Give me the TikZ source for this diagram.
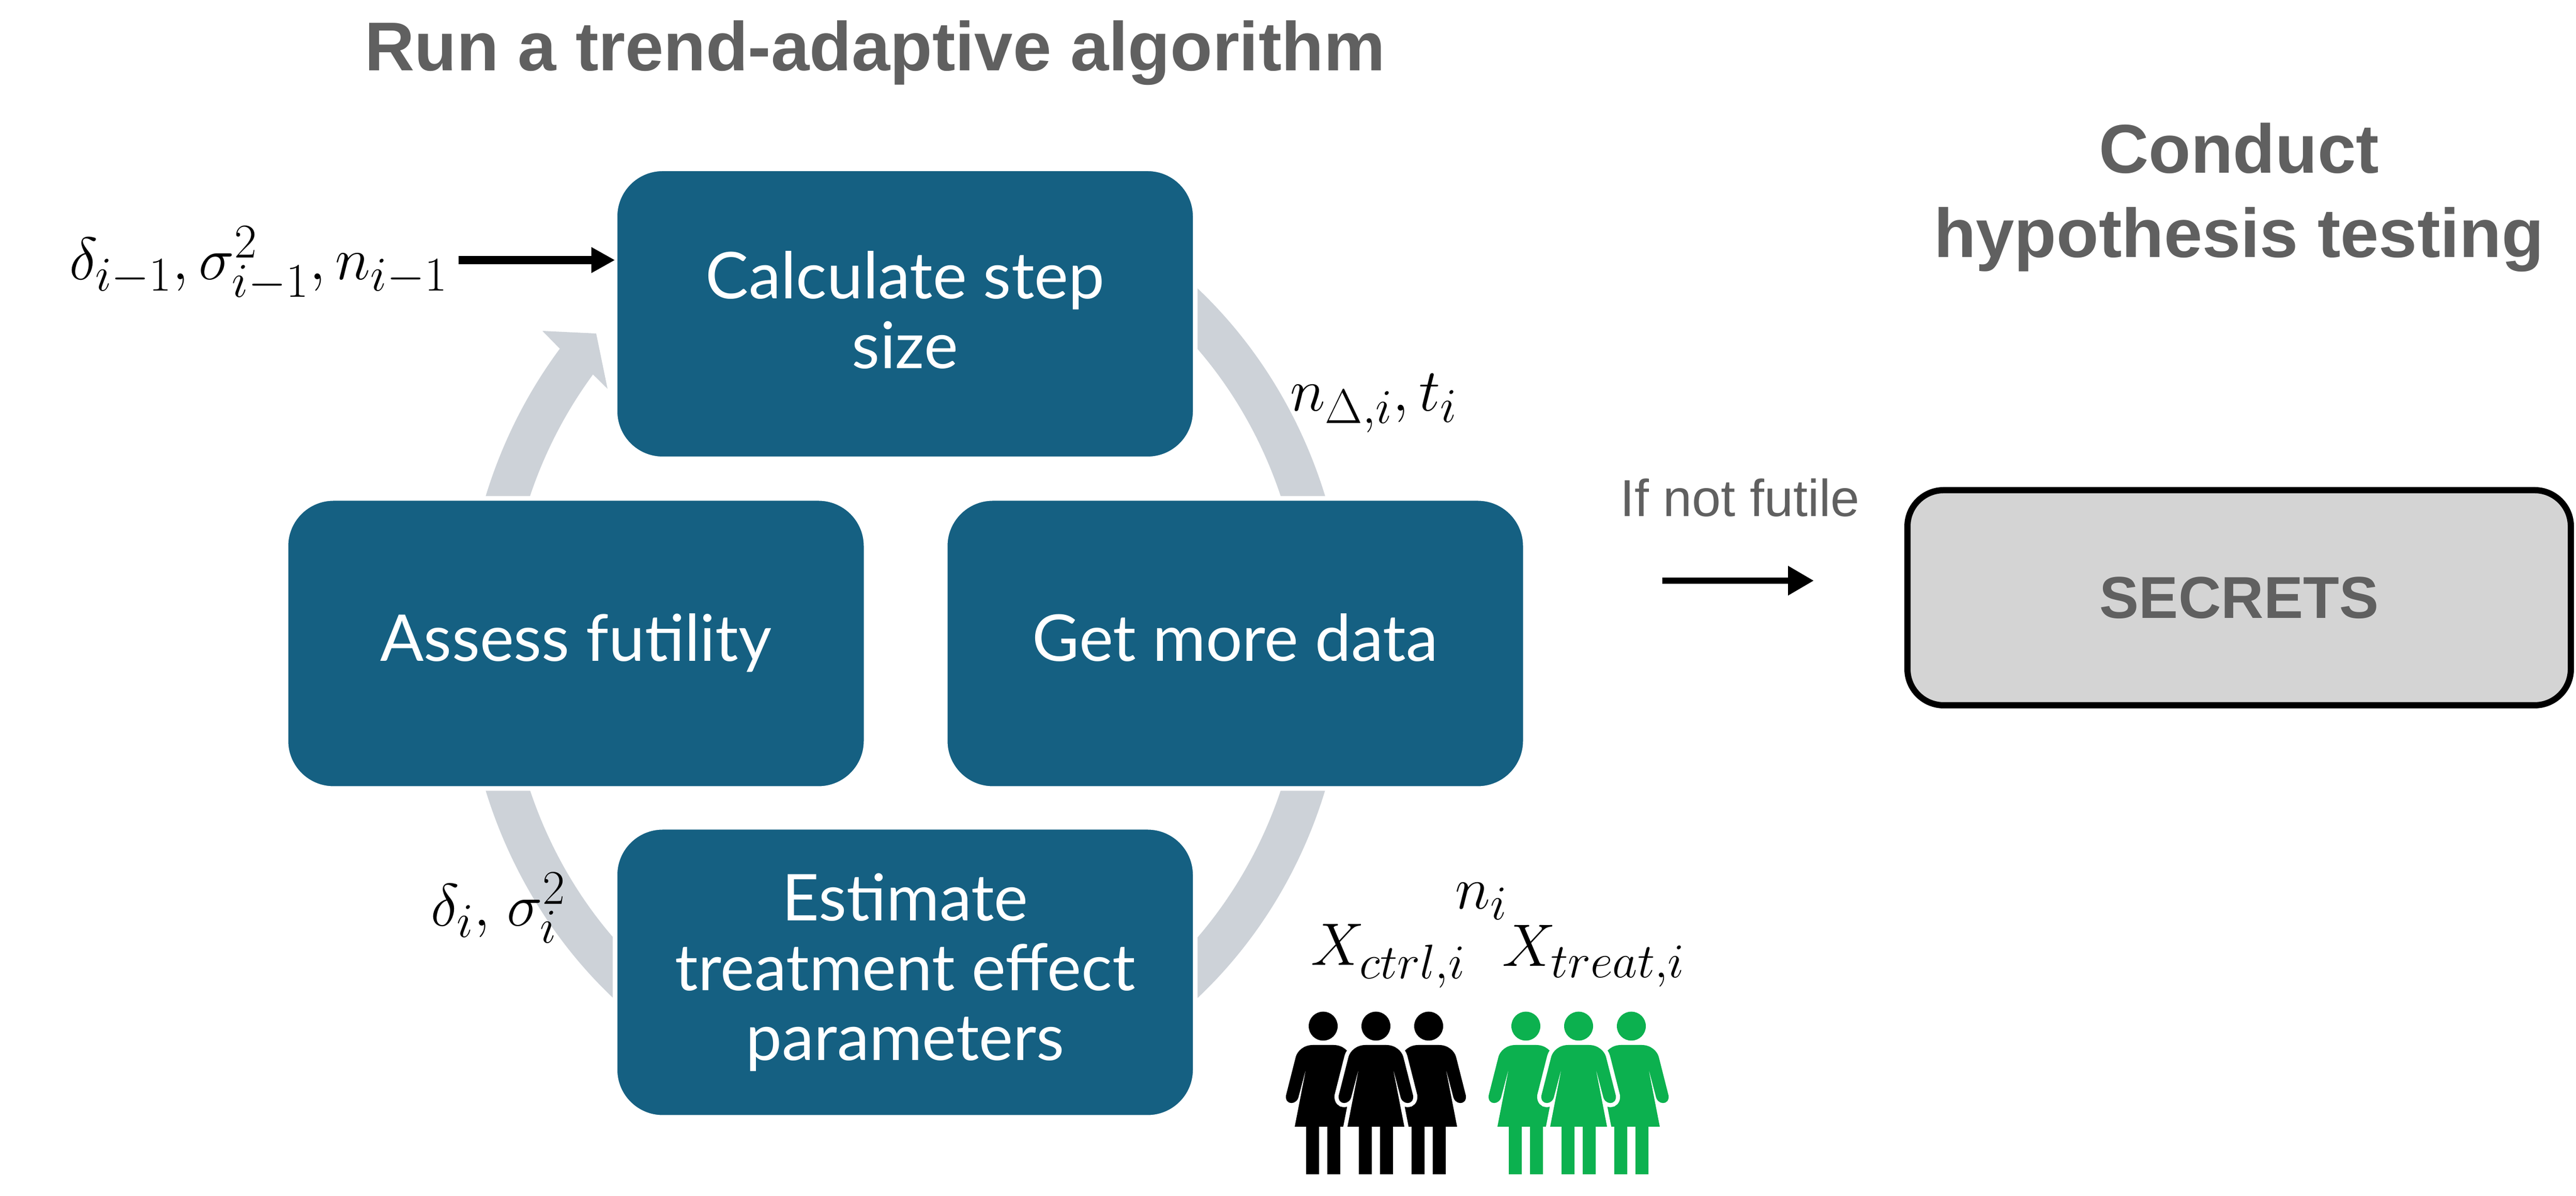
\documentclass[tikz,border=0pt]{standalone}
\usepackage{fix-cm}
\usepackage{amsmath}
\usepackage{fontspec}
\setmainfont{Lato}
\newfontfamily\headfont{Liberation Sans}
\usetikzlibrary{arrows.meta,calc}

\DeclareMathSizes{33}{33}{26.7}{20}

\definecolor{stepblue}{HTML}{156082}
\definecolor{ringgray}{HTML}{CDD2D8}
\definecolor{headgray}{HTML}{606060}
\definecolor{boxgray}{HTML}{D4D4D4}
\definecolor{treatgreen}{HTML}{0CB14F}

\newcommand{\personoutline}{
  (0,2.865) ellipse [x radius=.28,y radius=.28]
  (-.2,2.5) -- (.2,2.5) .. controls (.38,2.5) and (.5,2.38) .. (.53,2.27)
  -- (.72,1.52) .. controls (.74,1.33) and (.5,1.33) .. (.47,1.52) -- (.33,2.05) -- (.55,.92)
  -- (.33,.92) -- (.33,0) -- (.08,0) -- (.08,.92) -- (-.08,.92) -- (-.08,0) -- (-.33,0) -- (-.33,.92)
  -- (-.55,.92) -- (-.33,2.05) -- (-.47,1.52) .. controls (-.5,1.33) and (-.74,1.33) .. (-.72,1.52)
  -- (-.53,2.27) .. controls (-.5,2.38) and (-.38,2.5) .. (-.2,2.5) -- cycle}
\tikzset{
  person/.pic={
    \draw[white,line width=.16cm] \personoutline;
    \path[pic actions] \personoutline;
  }
}

\begin{document}
\begin{tikzpicture}[
  stepbox/.style={rectangle,rounded corners=.92cm,fill=stepblue,draw=white,line width=.09cm,
    minimum width=11.22cm,minimum height=5.61cm,outer sep=0pt,align=center,text=white,
    font=\fontsize{35.5}{38.4}\selectfont},
  oneline/.style={text height=.98cm,text depth=.3cm},
  endbox/.style={rectangle,rounded corners=.7cm,fill=boxgray,draw=black,line width=.12cm,
    minimum width=12.83cm,minimum height=4.16cm,outer sep=0pt},
  headtext/.style={align=center,text=headgray,inner sep=0pt,font=\headfont\bfseries\fontsize{38}{46.4}\selectfont},
  mathtext/.style={inner sep=0pt,font=\fontsize{33}{38}\selectfont},
  flow/.style={-{Triangle[length=.46cm,width=.47cm]},line width=.16cm}]
  % page
  \useasboundingbox (0,0) rectangle (49.82,23.13);

  % ring behind the steps
  \coordinate (hub) at (17.51,10.69);
  \coordinate (wingout) at (10.49,16.73);
  \coordinate (tip) at (11.53,16.68);
  \coordinate (wingin) at (11.75,15.61);
  \fill[ringgray] ($(hub)+(80:8.54 and 9.15)$)
    arc [start angle=80,end angle=-218.5,x radius=8.54,y radius=9.15]
    -- (wingout) -- (tip) -- (wingin) -- ($(hub)+(141.5:7.72 and 8.35)$)
    arc [start angle=-218.5,end angle=80,x radius=7.72,y radius=8.35] -- cycle;

  % steps
  \node (calc) [stepbox] at (17.505,17.06) {Calculate step\\size\rule[-.16cm]{0pt}{0pt}};
  \node (assess) [stepbox,oneline] at (11.14,10.685) {Assess futility};
  \node (data) [stepbox,oneline] at (23.89,10.685) {Get more data};
  \node (estimate) [stepbox] at (17.505,4.325) {Estimate\\treatment effect\\parameters};
  \node (secrets) [endbox,text=headgray,font=\headfont\bfseries\fontsize{32.5}{38}\selectfont] at (43.305,11.57) {\raisebox{-.04cm}{SECRETS}};

  % titles
  \node (runtitle) [headtext,anchor=base] at (16.92,21.76) {Run a trend-adaptive algorithm};
  \node (testtitle) [headtext,anchor=base] at (43.3,18.15) {Conduct\\hypothesis testing};

  % labels
  \node (prevparams) [mathtext] at (5.0,18.03) {$\delta_{i-1},\sigma_{i-1}^2,n_{i-1}$};
  \node (stepparams) [mathtext] at (26.57,15.33) {$n_{\Delta,i},t_i$};
  \node (curparams) [mathtext] at (9.635,5.57) {$\delta_i,\mspace{2mu}\sigma_i^2$};
  \node (samples) [mathtext] at (28.65,5.7) {$n_i$};
  \node (ctrl) [mathtext] at (26.85,4.64) {$X_{ctrl,i}$};
  \node (treat) [mathtext] at (30.82,4.64) {$X_{treat,i}$};
  \node (futile) [text=headgray,inner sep=0pt,anchor=base,font=\headfont\fontsize{28.6}{34}\selectfont] at (33.65,13.14) {If not futile};

  % arrows
  \coordinate (feedin) at (8.87,18.10);
  \draw[flow] (feedin) -- (calc.west |- feedin);
  \coordinate (futilefrom) at (32.15,11.90);
  \coordinate (futileto) at (35.08,11.90);
  \draw[-{Triangle[length=.5cm,width=.54cm]},line width=.12cm] (futilefrom) -- (futileto);

  % groups of people
  \foreach \px in {25.59,27.63,26.61}
    \pic[fill=black] at (\px,.42) {person};
  \foreach \px in {29.51,31.55,30.53}
    \pic[fill=treatgreen] at (\px,.42) {person};
\end{tikzpicture}
\end{document}
